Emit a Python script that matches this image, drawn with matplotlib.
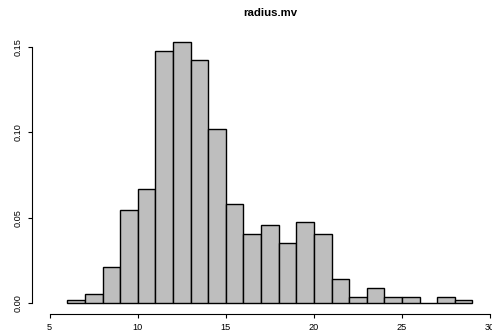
import numpy as np
import matplotlib
matplotlib.use("Agg")
import matplotlib.pyplot as plt

plt.rcParams['font.family'] = ['Liberation Sans', 'DejaVu Sans']

# histogram of radius.mv, bins of width 1 from 6 to 29 (counts, n = 569)
breaks = list(range(6, 30))
counts = [1, 3, 12, 31, 38, 84, 87, 81, 58, 33, 23, 26, 20, 27, 23, 8, 2, 5, 2, 2, 0, 2, 1]
n_obs = 569
xticks = [5, 10, 15, 20, 25, 30]
yticks = [0.00, 0.05, 0.10, 0.15]

density = np.array(counts) / n_obs

fig = plt.figure(figsize=(4.92, 3.32), dpi=100)
ax = fig.add_axes([32.1 / 492, 18 / 332, 475.6 / 492, 282.4 / 332])

ax.bar(breaks[:-1], density, width=1.0, align='edge',
       color='#bebebe', edgecolor='black', linewidth=1.0)

ax.set_xlim(4, 31)
ax.set_ylim(-0.00626, 0.159)

for s in ['top', 'right']:
    ax.spines[s].set_visible(False)
ax.spines['left'].set_bounds(0, 0.15)
ax.spines['bottom'].set_bounds(5, 30)
ax.spines['left'].set_linewidth(0.8)
ax.spines['bottom'].set_linewidth(0.8)

ax.set_xticks(xticks)
ax.set_xticklabels([str(t) for t in xticks])
ax.set_yticks(yticks)
ax.set_yticklabels(['%.2f' % t for t in yticks], rotation=90, va='center')
ax.tick_params(axis='both', direction='out', length=3, width=0.8, labelsize=6.6, pad=3.5)

ax.set_title('radius.mv', fontsize=8.2, fontweight='bold', pad=11)

fig.savefig('out.png', dpi=100)
